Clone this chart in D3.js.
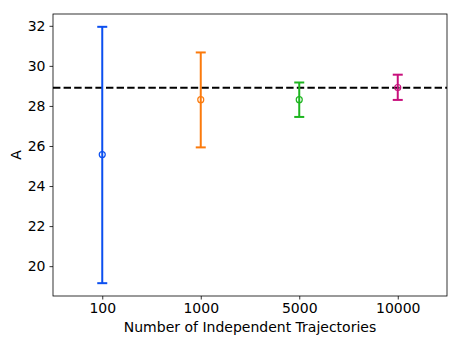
<!DOCTYPE html>
<html>
<head>
<meta charset="utf-8">
<script src="https://cdn.jsdelivr.net/npm/d3@7"></script>
<style>
  body { margin: 0; background: #fff; }
  svg text { font-family: "DejaVu Sans", sans-serif; fill: #000; }
</style>
</head>
<body>
<div id="chart"></div>
<script>
var categories = ['100', '1000', '5000', '10000'];
var means = [25.57, 28.31, 28.31, 28.92];
var lowers = [19.15, 25.93, 27.45, 28.30];
var uppers = [31.95, 30.67, 29.17, 29.56];
var colors = ['#0b4ff0', '#fb7a0c', '#1db51f', '#c8107c'];
var yTicks = [20, 22, 24, 26, 28, 30, 32];
var reference = 28.91;

var w = 461, h = 346;
var margin = {top: 14, right: 14, bottom: 50, left: 53};

var svg = d3.select('#chart').append('svg')
  .attr('width', w).attr('height', h);

var x = d3.scaleLinear().domain([-0.5, 3.5]).range([margin.left, w - margin.right]);
var y = d3.scaleLinear().domain([18.51, 32.59]).range([h - margin.bottom, margin.top]);

// axes
var xAxis = d3.axisBottom(x)
  .tickValues(d3.range(categories.length))
  .tickFormat(function(d) { return categories[d]; })
  .tickSize(3.5).tickSizeOuter(0).tickPadding(4);
var yAxis = d3.axisLeft(y)
  .tickValues(yTicks).tickSize(3.5).tickSizeOuter(0).tickPadding(4);

var gx = svg.append('g')
  .attr('transform', 'translate(0,' + (h - margin.bottom) + ')')
  .call(xAxis);
var gy = svg.append('g')
  .attr('transform', 'translate(' + margin.left + ',0)')
  .call(yAxis);
[gx, gy].forEach(function(g) {
  g.select('.domain').remove();
  g.selectAll('line').attr('stroke', '#000').attr('stroke-width', 0.8);
  g.selectAll('text').attr('font-size', '14px').attr('font-family', 'DejaVu Sans');
});

// frame
svg.append('rect')
  .attr('x', margin.left).attr('y', margin.top)
  .attr('width', w - margin.left - margin.right)
  .attr('height', h - margin.top - margin.bottom)
  .attr('fill', 'none').attr('stroke', '#000').attr('stroke-width', 0.8);

// reference line
svg.append('line')
  .attr('x1', margin.left).attr('x2', w - margin.right)
  .attr('y1', y(reference)).attr('y2', y(reference))
  .attr('stroke', '#000').attr('stroke-width', 2)
  .attr('stroke-dasharray', '7.4,3.2');

var bars = svg.selectAll('g.bar')
  .data(categories)
  .enter().append('g').attr('class', 'bar');

bars.append('line')
  .attr('x1', function(d, i) { return x(i); })
  .attr('x2', function(d, i) { return x(i); })
  .attr('y1', function(d, i) { return y(lowers[i]); })
  .attr('y2', function(d, i) { return y(uppers[i]); })
  .attr('stroke', function(d, i) { return colors[i]; })
  .attr('stroke-width', 2);

[lowers, uppers].forEach(function(arr) {
  bars.append('line')
    .attr('x1', function(d, i) { return x(i) - 5; })
    .attr('x2', function(d, i) { return x(i) + 5; })
    .attr('y1', function(d, i) { return y(arr[i]); })
    .attr('y2', function(d, i) { return y(arr[i]); })
    .attr('stroke', function(d, i) { return colors[i]; })
    .attr('stroke-width', 2);
});

bars.append('circle')
  .attr('cx', function(d, i) { return x(i); })
  .attr('cy', function(d, i) { return y(means[i]); })
  .attr('r', 3)
  .attr('fill', 'none')
  .attr('stroke', function(d, i) { return colors[i]; })
  .attr('stroke-width', 1.2);

// labels
svg.append('text')
  .attr('x', (margin.left + w - margin.right) / 2)
  .attr('y', 332)
  .attr('text-anchor', 'middle')
  .attr('font-size', '14px')
  .text('Number of Independent Trajectories');

svg.append('text')
  .attr('transform', 'translate(21,' + ((margin.top + h - margin.bottom) / 2) + ') rotate(-90)')
  .attr('text-anchor', 'middle')
  .attr('font-size', '14px')
  .text('A');
</script>
</body>
</html>
